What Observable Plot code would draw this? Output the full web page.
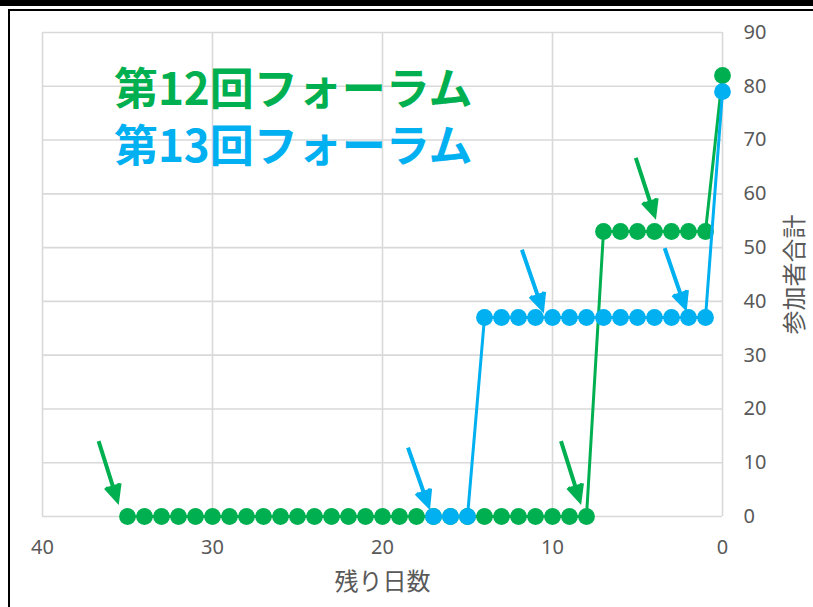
<!DOCTYPE html>
<html><head><meta charset="utf-8">
<script src="https://cdn.jsdelivr.net/npm/d3@7"></script>
<script src="https://cdn.jsdelivr.net/npm/@observablehq/plot@0.6"></script>
<style>
body{margin:0;background:#fff;}
#wrap{position:relative;width:813px;height:607px;overflow:hidden;background:#fff;}
.b{position:absolute;background:#000;}
</style></head><body>
<div id="wrap"></div>
<script>
// 第12回フォーラム: remaining days and cumulative participants
const days12 = [35,34,33,32,31,30,29,28,27,26,25,24,23,22,21,20,19,18,17,16,15,14,13,12,11,10,9,8,7,6,5,4,3,2,1,0];
const total12 = [0,0,0,0,0,0,0,0,0,0,0,0,0,0,0,0,0,0,0,0,0,0,0,0,0,0,0,0,53,53,53,53,53,53,53,82];
// 第13回フォーラム
const days13 = [17,16,15,14,13,12,11,10,9,8,7,6,5,4,3,2,1,0];
const total13 = [0,0,0,37,37,37,37,37,37,37,37,37,37,37,37,37,37,79];

const xTicks = [40,30,20,10,0];
const yTicks = [0,10,20,30,40,50,60,70,80,90];
const xLabel = "残り日数";
const yLabel = "参加者合計";
const titles = ["第12回フォーラム","第13回フォーラム"];
const titleX = [35.8, 35.8];
const titleY = [79.2, 68.6];

// annotation arrows (data coordinates)
const arrowGreenX1 = [36.7, 9.5, 5.1];
const arrowGreenY1 = [14.0, 14.0, 66.7];
const arrowGreenX2 = [35.6, 8.4, 4.0];
const arrowGreenY2 = [3.0, 3.0, 56.0];
const arrowBlueX1 = [18.5, 11.8, 3.4];
const arrowBlueY1 = [12.8, 49.6, 49.9];
const arrowBlueX2 = [17.3, 10.6, 2.2];
const arrowBlueY2 = [2.0, 38.6, 38.9];

const GREEN = "#00B050", BLUE = "#00B0F0", GRID = "#D9D9D9", TXT = "#595959";

const s12 = days12.map((d,i)=>({day:d, total:total12[i]}));
const s13 = days13.map((d,i)=>({day:d, total:total13[i]}));
const arrows = (x1,y1,x2,y2) => x1.map((v,i)=>({x1:v,y1:y1[i],x2:x2[i],y2:y2[i]}));
const aG = arrows(arrowGreenX1,arrowGreenY1,arrowGreenX2,arrowGreenY2);
const aB = arrows(arrowBlueX1,arrowBlueY1,arrowBlueX2,arrowBlueY2);

const chart = Plot.plot({
  width: 813, height: 607,
  marginLeft: 42, marginRight: 91, marginTop: 32, marginBottom: 91,
  style: {fontFamily: "'Noto Sans','Noto Sans CJK JP',sans-serif", background: "transparent", color: TXT},
  x: {domain: [40, 0], label: null},
  y: {domain: [0, 90], label: null},
  marks: [
    Plot.gridX(xTicks, {stroke: GRID, strokeOpacity: 1, strokeWidth: 1.6}),
    Plot.gridY(yTicks, {stroke: GRID, strokeOpacity: 1, strokeWidth: 1.6}),
    Plot.axisX(xTicks, {tickSize: 0, tickPadding: 23, fontSize: 20, fill: TXT, label: null}),
    Plot.axisY(yTicks, {anchor: "right", tickSize: 0, tickPadding: 21, fontSize: 20, fill: TXT, label: null}),
    Plot.text([xLabel], {frameAnchor: "bottom", dy: 73, fontSize: 24, fill: TXT, fontFamily: "'Noto Sans CJK JP'"}),
    Plot.text([yLabel], {frameAnchor: "right", dx: 73, rotate: -90, textAnchor: "middle", fontSize: 24, fill: TXT, fontFamily: "'Noto Sans CJK JP'"}),
    Plot.line(s12, {x: "day", y: "total", stroke: GREEN, strokeWidth: 3}),
    Plot.dot(s12, {x: "day", y: "total", r: 8.4, fill: GREEN}),
    Plot.line(s13, {x: "day", y: "total", stroke: BLUE, strokeWidth: 3}),
    Plot.dot(s13, {x: "day", y: "total", r: 8.4, fill: BLUE}),
    Plot.arrow(aG, {x1:"x1", y1:"y1", x2:"x2", y2:"y2", stroke: GREEN, fill: GREEN, strokeWidth: 4, headLength: 6.5, headAngle: 50, strokeLinecap: "butt", strokeLinejoin: "miter", strokeMiterlimit: 10}),
    Plot.arrow(aB, {x1:"x1", y1:"y1", x2:"x2", y2:"y2", stroke: BLUE, fill: BLUE, strokeWidth: 4, headLength: 6.5, headAngle: 50, strokeLinecap: "butt", strokeLinejoin: "miter", strokeMiterlimit: 10}),
    Plot.text([titles[0]], {x: titleX[0], y: titleY[0], text: d => d, textAnchor: "start", lineAnchor: "middle", fontSize: 44, fontWeight: "bold", fill: GREEN, fontFamily: "'Noto Sans CJK JP'"}),
    Plot.text([titles[1]], {x: titleX[1], y: titleY[1], text: d => d, textAnchor: "start", lineAnchor: "middle", fontSize: 44, fontWeight: "bold", fill: BLUE, fontFamily: "'Noto Sans CJK JP'"})
  ]
});
const wrap = document.getElementById("wrap");
wrap.appendChild(chart);
[[0,0,813,6],[8,9,805,2],[8,9,2,598]].forEach(([l,t,w,h])=>{
  const d = document.createElement("div"); d.className = "b";
  d.style.left = l+"px"; d.style.top = t+"px"; d.style.width = w+"px"; d.style.height = h+"px";
  wrap.appendChild(d);
});
</script>
</body></html>
